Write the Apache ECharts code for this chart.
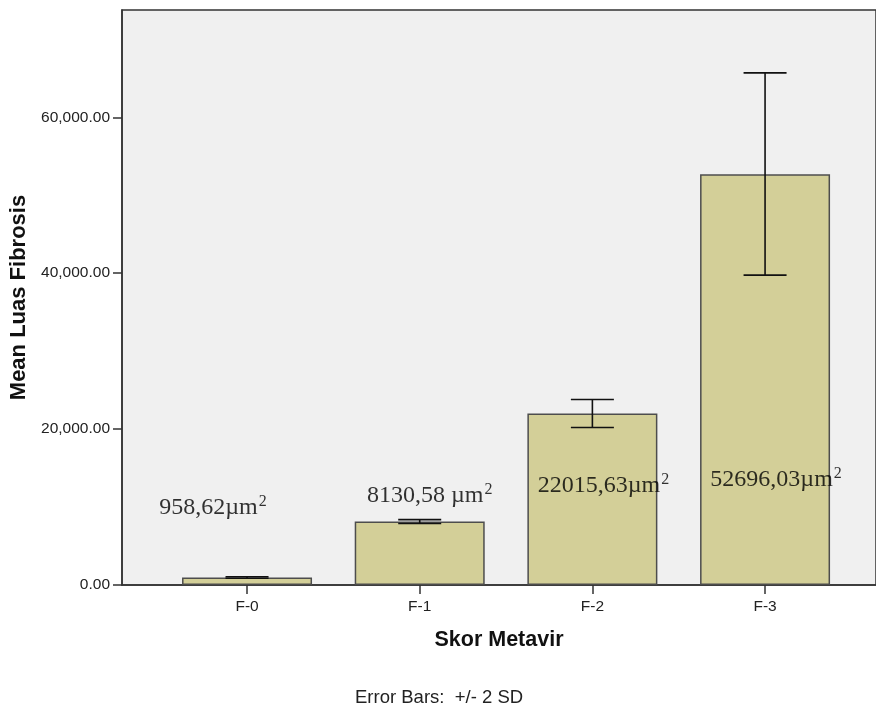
<!DOCTYPE html>
<html>
<head>
<meta charset="utf-8">
<script src="https://cdn.jsdelivr.net/npm/echarts@6/dist/echarts.min.js"></script>
<style>
html,body{margin:0;padding:0;background:#fff;}
#main{width:876px;height:706px;}
</style>
</head>
<body>
<div id="main"></div>
<script>
// data
var categories = ['F-0', 'F-1', 'F-2', 'F-3'];
var means = [958.62, 8130.58, 22015.63, 52696.03];
var errLow = [860, 7880, 20200, 39750];
var errHigh = [1060, 8380, 23800, 65700];
var noteText = ['958,62µm', '8130,58 µm', '22015,63µm', '52696,03µm'];
var noteY = [9920, 11460, 12740, 13510];
var noteDx = [-34, 10, 11, 11];
var yTicks = [0, 20000, 40000, 60000];

var chart = echarts.init(document.getElementById('main'));

var sans = 'Liberation Sans';
var serif = 'Liberation Serif';

option = {
	animation: false,
	grid: [
		{left: 122, top: 10, width: 768, height: 575, show: true,
		 backgroundColor: '#f0f0f0', borderColor: '#333', borderWidth: 1.5},
		{left: 160.7, top: 10, width: 690.7, height: 575, show: false}
	],
	xAxis: [
		{
			gridIndex: 0, type: 'value', min: 0, max: 1,
			axisLine: {show: true, onZero: false, lineStyle: {color: '#333', width: 1.5}},
			axisTick: {show: false}, axisLabel: {show: false}, splitLine: {show: false},
			name: 'Skor Metavir', nameLocation: 'middle', nameGap: 44,
			nameTextStyle: {fontFamily: sans, fontSize: 21.5, fontWeight: 'bold', color: '#111'}
		},
		{
			gridIndex: 1, type: 'category', data: categories,
			axisLine: {show: false},
			axisTick: {show: true, alignWithLabel: true, length: 9, lineStyle: {color: '#333', width: 1.5}},
			axisLabel: {fontFamily: sans, fontSize: 15.5, color: '#222', margin: 14}
		}
	],
	yAxis: [
		{
			gridIndex: 0, type: 'value', min: 0, max: 73760,
			axisLine: {show: true, lineStyle: {color: '#333', width: 1.5}},
			axisTick: {show: true, length: 9, customValues: yTicks, lineStyle: {color: '#333', width: 1.5}},
			axisLabel: {
				customValues: yTicks, fontFamily: sans, fontSize: 15.5, color: '#222', margin: 12,
				formatter: function (v) {
					return v.toLocaleString('en-US', {minimumFractionDigits: 2, maximumFractionDigits: 2});
				}
			},
			splitLine: {show: false},
			name: 'Mean Luas Fibrosis', nameLocation: 'middle', nameGap: 88,
			nameTextStyle: {fontFamily: sans, fontSize: 22, fontWeight: 'bold', color: '#111'}
		},
		{
			gridIndex: 1, type: 'value', min: 0, max: 73760, show: false
		}
	],
	graphic: [{
		type: 'text', left: 355, top: 688,
		style: {text: 'Error Bars:  +/- 2 SD', fontFamily: sans, fontSize: 18.5, fill: '#222'}
	}],
	series: [
		{
			type: 'bar', xAxisIndex: 1, yAxisIndex: 1,
			data: means, barWidth: 130,
			itemStyle: {color: '#d3cf98', borderColor: '#4d4d4d', borderWidth: 1.5}
		},
		{
			type: 'custom', xAxisIndex: 1, yAxisIndex: 1, z: 5,
			data: categories.map(function (c, i) { return [i, errLow[i], errHigh[i]]; }),
			renderItem: function (params, api) {
				var lo = api.coord([api.value(0), api.value(1)]);
				var hi = api.coord([api.value(0), api.value(2)]);
				var hw = 21.5;
				var st = {stroke: '#111', lineWidth: 1.6};
				return {
					type: 'group',
					children: [
						{type: 'line', shape: {x1: hi[0], y1: hi[1], x2: lo[0], y2: lo[1]}, style: st},
						{type: 'line', shape: {x1: hi[0] - hw, y1: hi[1], x2: hi[0] + hw, y2: hi[1]}, style: st},
						{type: 'line', shape: {x1: lo[0] - hw, y1: lo[1], x2: lo[0] + hw, y2: lo[1]}, style: st}
					]
				};
			}
		},
		{
			type: 'scatter', xAxisIndex: 1, yAxisIndex: 1, z: 6,
			symbolSize: 0,
			data: categories.map(function (c, i) { return [i, noteY[i]]; }),
			label: {
				show: true, position: 'inside',
				formatter: function (p) {
					return '{a|' + noteText[p.dataIndex] + '}{b|2}';
				},
				rich: {
					a: {fontFamily: serif, fontSize: 24, color: '#000'},
					b: {fontFamily: serif, fontSize: 16, color: '#000', verticalAlign: 'top', padding: [0, 0, 12, 1]}
				}
			},
			labelLayout: function (p) {
				return {dx: noteDx[p.dataIndex]};
			}
		}
	]
};
chart.setOption(option);
</script>
</body>
</html>
